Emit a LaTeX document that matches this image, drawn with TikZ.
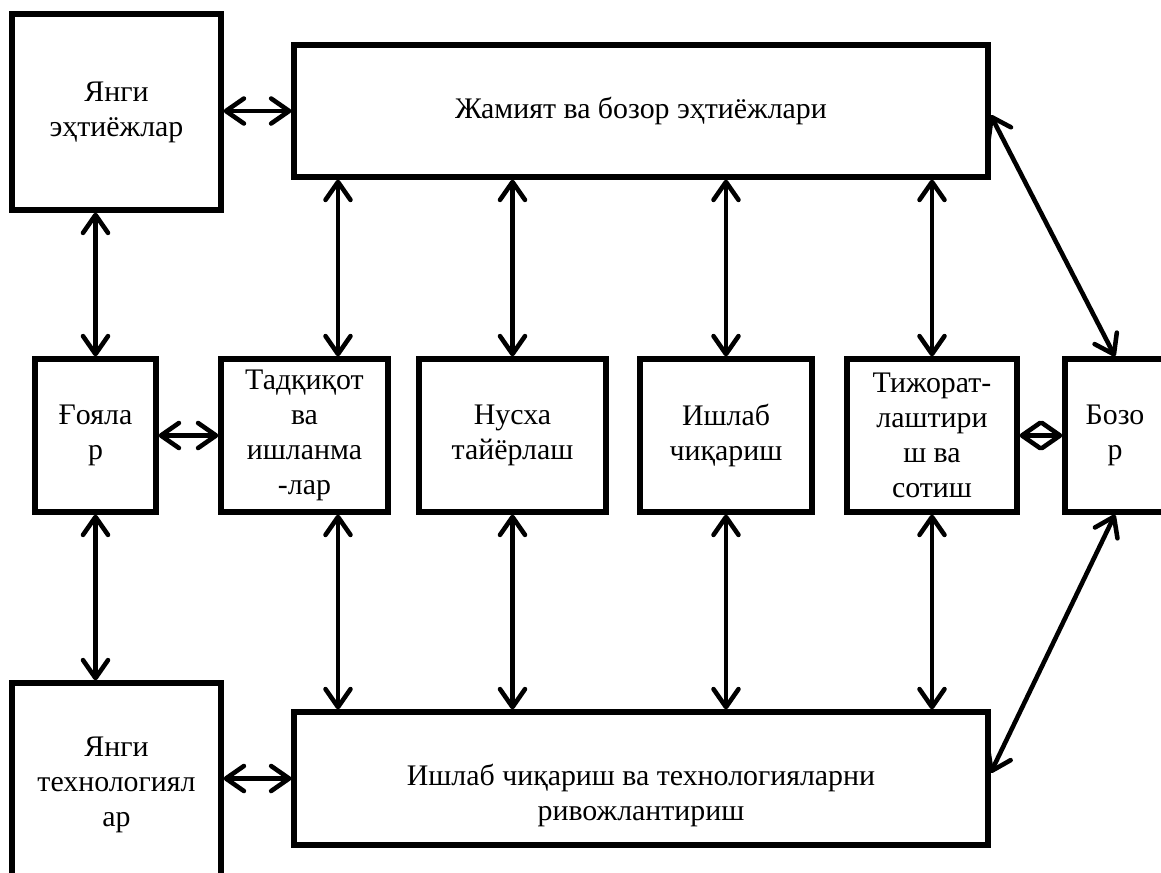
\documentclass[tikz,border=0pt]{standalone}
\usepackage{fontspec}
\setmainfont{Liberation Serif}
\usetikzlibrary{arrows.meta}

\begin{document}
\begin{tikzpicture}[x=0.02cm, y=-0.02cm,
    box/.style={draw, line width=3pt, align=center, inner sep=0pt,
      font=\fontsize{17}{20}\selectfont},
    link/.style={line width=2.6pt, <->},
    >={Straight Barb[length=3.6mm, width=5mm, round]}]
  \useasboundingbox (0,0) rectangle (1161,873);
  \clip (0,0) rectangle (1161,873);

  \node[box, minimum width=4.18cm, minimum height=3.92cm] (needs) at (116.5,112) {Янги\\эҳтиёжлар};
  \node[box, minimum width=13.88cm, minimum height=2.64cm] (society) at (641,111) {Жамият ва бозор эҳтиёжлари};
  \node[box, minimum width=2.42cm, minimum height=3.06cm] (ideas) at (95.5,435.5) {Ғояла\\р};
  \node[box, minimum width=3.34cm, minimum height=3.06cm] (research) at (304.5,435.5) {Тадқиқот\\ва\\ишланма\\-лар};
  \node[box, minimum width=3.74cm, minimum height=3.06cm] (proto) at (512.5,435.5) {Нусха\\тайёрлаш};
  \node[box, minimum width=3.44cm, minimum height=3.06cm] (prod) at (726,435.5) {Ишлаб\\чиқариш};
  \node[box, minimum width=3.40cm, minimum height=3.06cm] (trade) at (932,435.5) {Тижорат-\\лаштири\\ш ва\\сотиш};
  \node[box, minimum width=2.00cm, minimum height=3.06cm] (market) at (1115,435.5) {Бозо\\р};
  \node[box, minimum width=4.18cm, minimum height=4.08cm] (tech) at (116.5,785) {Янги\\технологиял\\ар};
  \node[box, minimum width=13.88cm, minimum height=2.66cm,
    label={[font=\fontsize{17}{20}\selectfont, align=center, yshift=-0.34cm]center:Ишлаб чиқариш ва технологияларни\\ривожлантириш}]
    (develop) at (641,778.5) {};

  \coordinate (rx) at (338,0);

  \draw[link] (needs.east |- society.west) -- (society.west);
  \draw[link] (needs.south -| ideas.north) -- (ideas.north);
  \draw[link] (ideas.south) -- (tech.north -| ideas.south);
  \draw[link] (ideas.east) -- (research.west);
  \draw[link] (tech.east |- develop.west) -- (develop.west);
  \draw[link] (trade.east) -- (market.west);

  \draw[link] (society.south -| rx) -- (research.north -| rx);
  \draw[link] (society.south -| proto.north) -- (proto.north);
  \draw[link] (society.south -| prod.north) -- (prod.north);
  \draw[link] (society.south -| trade.north) -- (trade.north);

  \draw[link] (research.south -| rx) -- (develop.north -| rx);
  \draw[link] (proto.south) -- (develop.north -| proto.south);
  \draw[link] (prod.south) -- (develop.north -| prod.south);
  \draw[link] (trade.south) -- (develop.north -| trade.south);

  \draw[link] ([yshift=-0.08cm]society.east) -- (market.north);
  \draw[link] (market.south) -- ([yshift=0.11cm]develop.east);
\end{tikzpicture}
\end{document}
